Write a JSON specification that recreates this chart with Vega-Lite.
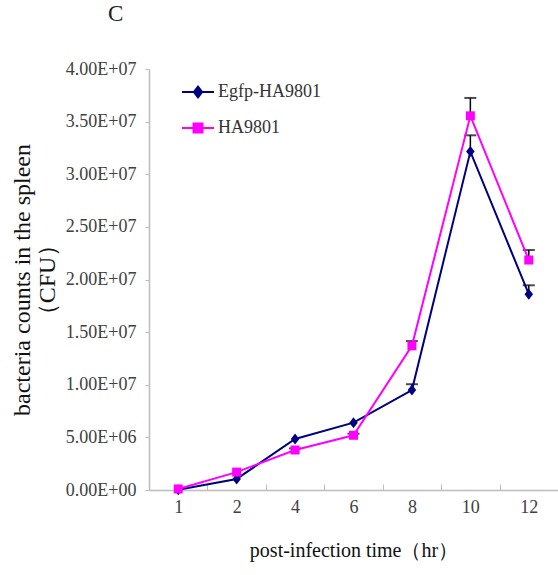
{
  "$schema": "https://vega.github.io/schema/vega-lite/v6.json",
  "autosize": "none",
  "width": 409,
  "height": 421,
  "padding": {"left": 149, "top": 69, "right": 0, "bottom": 85},
  "background": "white",
  "config": {"view": {"stroke": null}, "font": "Liberation Serif"},
  "title": {"text": "C", "anchor": "start", "frame": "group", "dx": -41, "offset": 34, "fontSize": 23, "font": "Liberation Serif", "fontWeight": "normal", "color": "#222"},
  "data": {"values": [
    {"series": "Egfp-HA9801", "time": "1", "value": 20000, "upper": 20000, "err": 0},
    {"series": "Egfp-HA9801", "time": "2", "value": 1050000, "upper": 1050000, "err": 0},
    {"series": "Egfp-HA9801", "time": "4", "value": 4850000, "upper": 4850000, "err": 0},
    {"series": "Egfp-HA9801", "time": "6", "value": 6400000, "upper": 6400000, "err": 0},
    {"series": "Egfp-HA9801", "time": "8", "value": 9500000, "upper": 10050000, "err": 1},
    {"series": "Egfp-HA9801", "time": "10", "value": 32150000, "upper": 33700000, "err": 1},
    {"series": "Egfp-HA9801", "time": "12", "value": 18600000, "upper": 19450000, "err": 1},
    {"series": "HA9801", "time": "1", "value": 100000, "upper": 100000, "err": 0},
    {"series": "HA9801", "time": "2", "value": 1700000, "upper": 1700000, "err": 0},
    {"series": "HA9801", "time": "4", "value": 3800000, "upper": 3950000, "err": 1},
    {"series": "HA9801", "time": "6", "value": 5200000, "upper": 5350000, "err": 1},
    {"series": "HA9801", "time": "8", "value": 13700000, "upper": 14150000, "err": 1},
    {"series": "HA9801", "time": "10", "value": 35550000, "upper": 37250000, "err": 1},
    {"series": "HA9801", "time": "12", "value": 21850000, "upper": 22800000, "err": 1}
  ]},
  "encoding": {
    "x": {
      "field": "time", "type": "ordinal",
      "sort": ["1", "2", "4", "6", "8", "10", "12"],
      "scale": {"type": "band", "paddingInner": 0, "paddingOuter": 0},
      "axis": {
        "title": "post-infection time（hr）",
        "titleFont": "Liberation Serif", "titleFontSize": 20, "titleFontWeight": "normal", "titleColor": "#111",
        "titlePadding": 24,
        "labelAngle": 0, "labelFont": "Liberation Serif", "labelFontSize": 18, "labelColor": "#404040",
        "labelPadding": 14,
        "domainColor": "#bdbdbd", "domainWidth": 1.5,
        "tickBand": "extent", "tickColor": "#bdbdbd", "tickSize": -6, "tickWidth": 1,
        "grid": false,
        "encode": {"labels": {"update": {"dx": {"signal": "16*datum.index"}}}}
      }
    },
    "y": {
      "field": "value", "type": "quantitative",
      "scale": {"domain": [0, 40000000], "nice": false},
      "axis": {
        "title": ["bacteria counts in the spleen", "（CFU）"],
        "titleFont": "Liberation Serif", "titleFontSize": 24, "titleFontWeight": "normal", "titleColor": "#111",
        "titleLineHeight": 25, "titlePadding": 6,
        "values": [0, 5000000, 10000000, 15000000, 20000000, 25000000, 30000000, 35000000, 40000000],
        "labelExpr": "replace(format(datum.value, '.2e'), 'e+', 'E+0')",
        "labelFont": "Liberation Serif", "labelFontSize": 18, "labelColor": "#404040",
        "labelPadding": 9,
        "domainColor": "#bdbdbd", "domainWidth": 1.5,
        "tickColor": "#bdbdbd", "tickSize": 4,
        "grid": false
      }
    }
  },
  "layer": [
    {
      "transform": [{"filter": "datum.err > 0"}],
      "mark": {"type": "rule", "color": "black", "strokeWidth": 1.5},
      "encoding": {"y2": {"field": "upper"}}
    },
    {
      "transform": [{"filter": "datum.err > 0"}],
      "mark": {"type": "tick", "color": "black", "size": 12, "thickness": 2},
      "encoding": {"y": {"field": "upper", "type": "quantitative"}}
    },
    {
      "mark": {"type": "line", "strokeWidth": 2},
      "encoding": {
        "color": {
          "field": "series", "type": "nominal",
          "scale": {"domain": ["Egfp-HA9801", "HA9801"], "range": ["#000080", "#ff00ff"]},
          "legend": {
            "title": null, "orient": "none", "legendX": 32, "legendY": 6,
            "padding": 0, "symbolSize": 1024, "symbolStrokeWidth": 2,
            "rowPadding": 9, "labelOffset": 3,
            "labelFont": "Liberation Serif", "labelFontSize": 18, "labelColor": "#333",
            "encode": {"symbols": {"update": {
              "shape": {"signal": "datum.value === 'HA9801' ? 'M-1,0L1,0M-0.28,-0.28H0.28V0.28H-0.28Z' : 'M-1,0L1,0M0,-0.34L0.26,0L0,0.34L-0.26,0Z'"},
              "fill": {"signal": "datum.value === 'HA9801' ? '#ff00ff' : '#000080'"},
              "stroke": {"signal": "datum.value === 'HA9801' ? '#ff00ff' : '#000080'"},
              "strokeWidth": {"value": 2}
            }}}
          }
        }
      }
    },
    {
      "transform": [{"filter": "datum.series === 'Egfp-HA9801'"}],
      "mark": {"type": "point", "filled": true, "size": 100, "opacity": 1, "shape": "M0,-1.1L0.85,0L0,1.1L-0.85,0Z"},
      "encoding": {"color": {"field": "series", "type": "nominal", "legend": null}}
    },
    {
      "transform": [{"filter": "datum.series === 'HA9801'"}],
      "mark": {"type": "point", "filled": true, "size": 100, "opacity": 1, "shape": "M-0.9,-0.9H0.9V0.9H-0.9Z"},
      "encoding": {"color": {"field": "series", "type": "nominal", "legend": null}}
    }
  ]
}
